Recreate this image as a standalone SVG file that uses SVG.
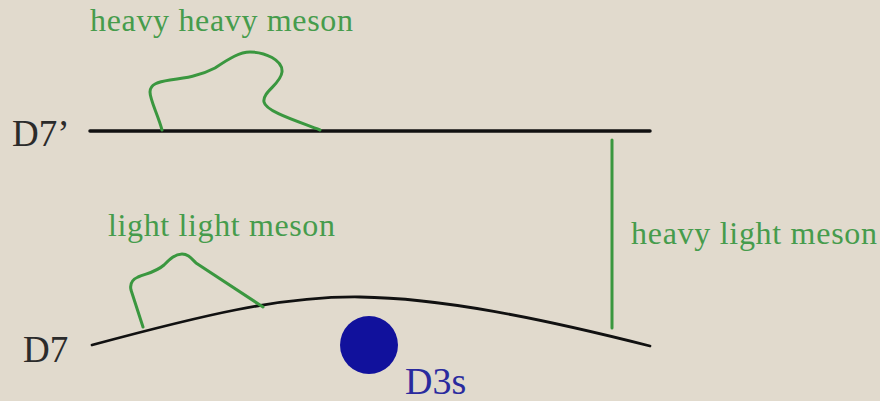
<svg xmlns="http://www.w3.org/2000/svg" width="880" height="401" viewBox="0 0 880 401">
<style>
.lbl{font-family:"Liberation Serif","Times New Roman",serif;font-size:32px;fill:#469c4c}
.name{font-family:"Liberation Serif","Times New Roman",serif;font-size:37px;fill:#2b2b2b}
.line{fill:none;stroke:#111;stroke-linecap:round}
.meson{fill:none;stroke:#3a973f;stroke-width:3;stroke-linecap:round;stroke-linejoin:round}
</style>
<rect x="0" y="0" width="880" height="401" fill="#e1dacd"/>
<g id="D7prime">
<path class="line" d="M90 131 L650 131" stroke-width="3.5"/>
<text class="name" x="12" y="146">D7’</text>
</g>
<g id="D7">
<path class="line" d="M92 345 C200 316 280 296 360 297 C440 298 540 318 650 346" stroke-width="2.8"/>
<text class="name" x="23" y="362">D7</text>
</g>
<g id="D3s">
<circle cx="369" cy="345" r="29" fill="#11119c"/>
<text x="405" y="394" style="font-family:'Liberation Serif','Times New Roman',serif;font-size:38px;fill:#2a2a9e">D3s</text>
</g>
<g id="connectors">
<g id="heavy-heavy-meson">
<path class="meson" d="M162 130 C158 115 150 100 150 92 C150 84 158 82 170 80 C185 78 200 76 215 68 C230 58 240 52 250 52 C265 52 283 60 282 72 C281 84 262 92 264 102 C266 112 300 122 320 130"/>
<text class="lbl" x="90" y="31" textLength="263" lengthAdjust="spacing">heavy heavy meson</text>
</g>
<g id="light-light-meson">
<path class="meson" d="M143 327 L131 290 Q129 281 138 277 C148 273 156 272 164 265 C170 259 175 254 182 254 C188 254 191 258 196 263 L263 307"/>
<text class="lbl" x="108" y="236" textLength="227" lengthAdjust="spacing">light light meson</text>
</g>
<g id="heavy-light-meson">
<path class="meson" d="M612 140 L612 328"/>
<text class="lbl" x="631" y="244" textLength="246" lengthAdjust="spacing">heavy light meson</text>
</g>
</g>
</svg>
